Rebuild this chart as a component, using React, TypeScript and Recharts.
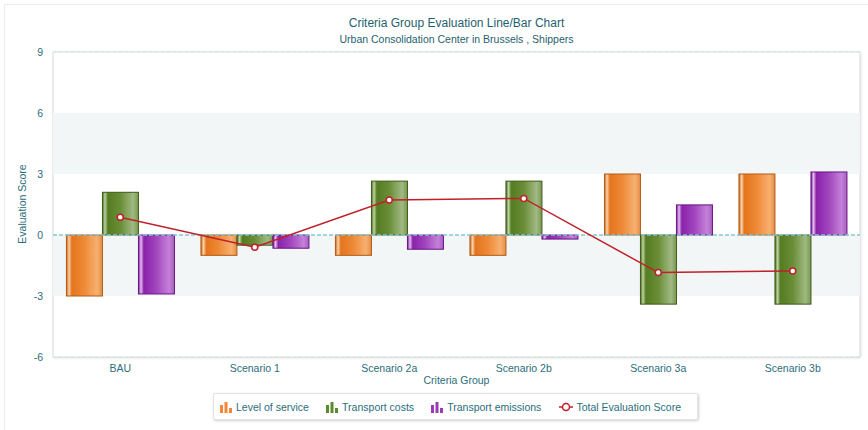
import { ComposedChart, Bar, Line, XAxis, YAxis, CartesianGrid, ReferenceArea, ReferenceLine } from 'recharts';

const groups = ['BAU', 'Scenario 1', 'Scenario 2a', 'Scenario 2b', 'Scenario 3a', 'Scenario 3b'];
const levelOfService = [-3, -1, -1, -1, 3, 3];
const transportCosts = [2.1, -0.5, 2.65, 2.65, -3.4, -3.4];
const transportEmissions = [-2.9, -0.65, -0.7, -0.2, 1.48, 3.1];
const totalScore = [0.87, -0.6, 1.72, 1.8, -1.85, -1.77];
const yTicks = [-6, -3, 0, 3, 6, 9];

const data = groups.map((name, i) => ({
  name,
  service: levelOfService[i],
  costs: transportCosts[i],
  emissions: transportEmissions[i],
  total: totalScore[i],
}));

const TEAL = '#2b6d7c';
const FONT = '"Liberation Sans", Arial, sans-serif';

const palette = {
  service: { stops: ['#c9620f', '#f8d2ad', '#e5741d', '#ee8a38', '#f7b070', '#e38d45'], stroke: '#b35a14', icon: '#f0873a' },
  costs: { stops: ['#45681a', '#bfd2a2', '#547c21', '#6a8e38', '#a0b982', '#7a9853'], stroke: '#3d5c17', icon: '#5d8a2a' },
  emissions: { stops: ['#741794', '#e6bdf0', '#8a22aa', '#a246be', '#c481d8', '#a85fc2'], stroke: '#681485', icon: '#9a3ab8' },
};
const offsets = [0, 0.07, 0.15, 0.5, 0.85, 1];

function GlossyBar(props: any) {
  const { x, y, width, height, gradId, stroke } = props;
  if (!height) return null;
  const top = Math.min(y, y + height);
  const h = Math.abs(height);
  return <rect x={x} y={top} width={width} height={h} fill={`url(#${gradId})`} stroke={stroke} strokeWidth={1} />;
}

function BarIcon({ color }: { color: string }) {
  return (
    <svg width={12} height={12} style={{ marginRight: 4 }}>
      <rect x={0} y={4} width={3} height={8} fill={color} />
      <rect x={4.5} y={1} width={3} height={11} fill={color} />
      <rect x={9} y={7} width={3} height={5} fill={color} />
    </svg>
  );
}

function LineIcon() {
  return (
    <svg width={14} height={12} style={{ marginRight: 4 }}>
      <line x1={0} y1={6} x2={14} y2={6} stroke="#c0202a" strokeWidth={1.5} />
      <circle cx={7} cy={6} r={3.5} fill="#fff" stroke="#c0202a" strokeWidth={1.5} />
    </svg>
  );
}

function ChartLegend() {
  const items = [
    { label: 'Level of service', icon: <BarIcon color={palette.service.icon} /> },
    { label: 'Transport costs', icon: <BarIcon color={palette.costs.icon} /> },
    { label: 'Transport emissions', icon: <BarIcon color={palette.emissions.icon} /> },
    { label: 'Total Evaluation Score', icon: <LineIcon /> },
  ];
  return (
    <div
      style={{
        position: 'absolute',
        left: 213,
        top: 393,
        width: 485,
        height: 27,
        boxSizing: 'border-box',
        display: 'flex',
        alignItems: 'center',
        justifyContent: 'space-between',
        padding: '0 16px 0 6px',
        background: '#fff',
        border: '1px solid #e2e2e2',
        borderRadius: 2,
        boxShadow: '1px 1px 3px rgba(0,0,0,0.18)',
        fontFamily: FONT,
        fontSize: 10.5,
        color: TEAL,
      }}
    >
      {items.map((it) => (
        <span key={it.label} style={{ display: 'flex', alignItems: 'center' }}>
          {it.icon}
          {it.label}
        </span>
      ))}
    </div>
  );
}

export default function App() {
  return (
    <div
      style={{
        position: 'absolute',
        left: 0,
        top: 0,
        width: 868,
        height: 430,
        background: '#fff',
        fontFamily: FONT,
      }}
    >
      <div
        style={{
          position: 'absolute',
          left: 4,
          top: 4,
          width: 864,
          height: 426,
          borderLeft: '1px solid #ececec',
          borderTop: '1px solid #ececec',
        }}
      />
      <div style={{ position: 'absolute', top: 16, left: 53, width: 807, textAlign: 'center', color: '#1f5f6e' }}>
        <div style={{ fontSize: 12 }}>Criteria Group Evaluation Line/Bar Chart</div>
        <div style={{ fontSize: 10.5, marginTop: 3 }}>Urban Consolidation Center in Brussels , Shippers</div>
      </div>
      <div
        style={{
          position: 'absolute',
          left: 53,
          top: 52,
          width: 807,
          height: 305,
          boxShadow: '1px 1px 3px rgba(0,0,0,0.12)',
        }}
      />
      <ComposedChart
        width={868}
        height={430}
        data={data}
        margin={{ top: 52, right: 8, bottom: 38, left: 0 }}
        barCategoryGap="10%"
        barGap={0}
        style={{ position: 'absolute', left: 0, top: 0 }}
      >
        <defs>
          {Object.entries(palette).map(([key, p]) => (
            <linearGradient key={key} id={`grad-${key}`} x1="0" y1="0" x2="1" y2="0">
              {p.stops.map((c, i) => (
                <stop key={i} offset={offsets[i]} stopColor={c} />
              ))}
            </linearGradient>
          ))}
        </defs>
        <ReferenceArea y1={-6} y2={9} fill="#fff" fillOpacity={1} stroke="#d9dddd" strokeWidth={1} />
        <ReferenceArea y1={3} y2={6} fill="#f3f6f6" fillOpacity={1} stroke="none" />
        <ReferenceArea y1={-3} y2={0} fill="#f3f6f6" fillOpacity={1} stroke="none" />
        <CartesianGrid vertical={false} stroke="#a9d5df" strokeDasharray="3 3" />
        <ReferenceLine y={0} stroke="#86c6d3" strokeWidth={1.5} strokeDasharray="4 2" />
        <XAxis
          dataKey="name"
          axisLine={false}
          tickLine={false}
          tick={{ fill: TEAL, fontSize: 10.5, fontFamily: FONT }}
          tickMargin={2}
          label={{ value: 'Criteria Group', position: 'insideBottom', offset: 8, fill: TEAL, fontSize: 10.5, fontFamily: FONT }}
          height={35}
        />
        <YAxis
          domain={[-6, 9]}
          ticks={yTicks}
          axisLine={false}
          tickLine={false}
          width={53}
          tickMargin={4}
          tick={{ fill: TEAL, fontSize: 10.5, fontFamily: FONT }}
        />
        <Bar dataKey="service" name="Level of service" isAnimationActive={false}
          shape={(p: any) => <GlossyBar {...p} gradId="grad-service" stroke={palette.service.stroke} />} />
        <Bar dataKey="costs" name="Transport costs" isAnimationActive={false}
          shape={(p: any) => <GlossyBar {...p} gradId="grad-costs" stroke={palette.costs.stroke} />} />
        <Bar dataKey="emissions" name="Transport emissions" isAnimationActive={false}
          shape={(p: any) => <GlossyBar {...p} gradId="grad-emissions" stroke={palette.emissions.stroke} />} />
        <Line
          dataKey="total"
          name="Total Evaluation Score"
          stroke="#c0202a"
          strokeWidth={1.5}
          dot={{ r: 3, fill: '#fff', stroke: '#c0202a', strokeWidth: 1.5 }}
          isAnimationActive={false}
        />
      </ComposedChart>
      {/* vertical axis title, centred on the plot height */}
      <div
        style={{
          position: 'absolute',
          left: 22,
          top: 204,
          transform: 'translate(-50%, -50%) rotate(-90deg)',
          whiteSpace: 'nowrap',
          fontSize: 10.5,
          color: TEAL,
        }}
      >
        Evaluation Score
      </div>
      <ChartLegend />
    </div>
  );
}
